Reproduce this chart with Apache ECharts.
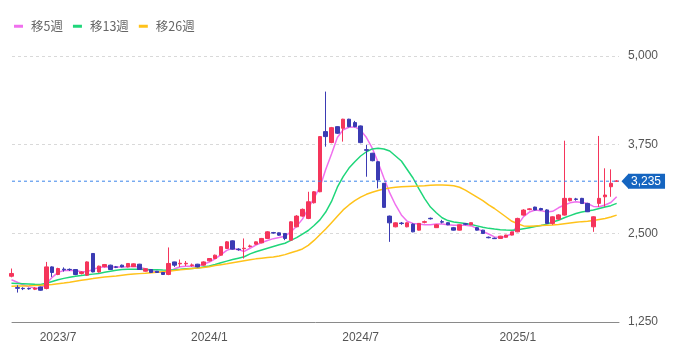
<!DOCTYPE html>
<html><head><meta charset="utf-8">
<script src="https://cdn.jsdelivr.net/npm/echarts@6/dist/echarts.min.js"></script>
<style>html,body{margin:0;padding:0;background:#fff}#c{width:688px;height:358px}</style>
</head><body><div id="c"></div>
<script>
// weekly categories (week start), first one only partly visible
const weeks = ['2023/5/8','2023/5/15','2023/5/22','2023/5/29','2023/6/5','2023/6/12','2023/6/19','2023/6/26','2023/7/3','2023/7/10','2023/7/17','2023/7/24','2023/7/31','2023/8/7','2023/8/14','2023/8/21','2023/8/28','2023/9/4','2023/9/11','2023/9/18','2023/9/25','2023/10/2','2023/10/9','2023/10/16','2023/10/23','2023/10/30','2023/11/6','2023/11/13','2023/11/20','2023/11/27','2023/12/4','2023/12/11','2023/12/18','2023/12/25',
'2024/1/1','2024/1/8','2024/1/15','2024/1/22','2024/1/29','2024/2/5','2024/2/12','2024/2/19','2024/2/26','2024/3/4','2024/3/11','2024/3/18','2024/3/25','2024/4/1','2024/4/8','2024/4/15','2024/4/22','2024/4/29','2024/5/6','2024/5/13','2024/5/20','2024/5/27','2024/6/3','2024/6/10','2024/6/17','2024/6/24','2024/7/1','2024/7/8','2024/7/15','2024/7/22','2024/7/29','2024/8/5','2024/8/12','2024/8/19','2024/8/26','2024/9/2','2024/9/9','2024/9/16','2024/9/23','2024/9/30','2024/10/7','2024/10/14','2024/10/21','2024/10/28','2024/11/4','2024/11/11','2024/11/18','2024/11/25','2024/12/2','2024/12/9','2024/12/16','2024/12/23','2024/12/30',
'2025/1/6','2025/1/13','2025/1/20','2025/1/27','2025/2/3','2025/2/10','2025/2/17','2025/2/24','2025/3/3','2025/3/10','2025/3/17','2025/3/24','2025/3/31','2025/4/7','2025/4/14','2025/4/21','2025/4/28','2025/5/5'];

const openV = [1895,1735,1725,1722,1712,1744,1722,2027,1920,1995,1992,1990,1934,1910,2216,1956,2030,2051,2027,2051,2027,2030,2065,1966,1990,1966,1948,1920,2097,2070,2070,2048,2065,2051,2112,2145,2192,2287,2394,2278,2283,2315,2347,2366,2428,2510,2507,2498,2404,2592,2743,2710,2931,3086,3934,3780,4004,3981,4109,4061,4014,3680,3629,3510,3205,2743,2592,2645,2592,2630,2545,2655,2712,2580,2665,2650,2580,2545,2635,2620,2580,2545,2445,2432,2428,2445,2475,2521,2757,2835,2870,2850,2830,2640,2700,2757,2960,2985,2993,2922,2592,2922,3015,3157,3235];
const closeV = [1934,1725,1720,1718,1728,1698,2027,1948,2004,1985,1988,1920,1955,2097,1956,2037,2060,1990,2022,2027,2075,2070,1990,2000,1948,1948,1920,2075,2051,2078,2078,2055,2027,2097,2145,2192,2312,2380,2277,2270,2290,2322,2380,2428,2521,2504,2474,2428,2662,2743,2838,2945,3086,3864,3864,3990,3911,4109,4004,4004,3779,3670,3524,3251,2866,2648,2648,2638,2648,2521,2640,2665,2705,2620,2658,2620,2545,2620,2628,2650,2545,2498,2438,2425,2460,2475,2520,2710,2828,2845,2830,2830,2640,2733,2760,2993,2993,2978,2920,2804,2733,2993,3040,3205,3237];
const lowV = [1880,1665,1700,1705,1700,1690,1710,1886,1910,1960,1970,1910,1920,1900,1950,1945,2020,1985,2010,2020,2020,2025,1985,1960,1940,1942,1915,1910,2027,2027,2040,2030,2020,2045,2105,2140,2185,2280,2270,2255,2145,2300,2340,2360,2420,2495,2465,2404,2395,2585,2735,2700,2920,3080,3722,3770,3900,3793,3995,3995,3770,3298,3515,3134,2860,2380,2585,2620,2585,2515,2540,2640,2695,2575,2640,2615,2540,2540,2615,2615,2540,2490,2430,2420,2420,2440,2470,2515,2750,2825,2825,2825,2635,2620,2690,2750,2950,2960,2915,2800,2521,2874,2874,3015,3225];
const highV = [2004,1768,1740,1735,1740,1750,2097,2035,2015,2020,2005,1995,1965,2105,2220,2045,2068,2058,2040,2060,2080,2078,2070,2008,1995,1970,1952,2301,2100,2131,2110,2075,2070,2105,2150,2200,2320,2390,2400,2290,2428,2340,2385,2435,2530,2520,2512,2505,2670,2757,2850,3086,3095,3870,4498,4000,4010,4115,4115,4085,4020,3746,3635,3515,3210,2750,2655,2660,2655,2640,2645,2680,2722,2630,2690,2655,2590,2625,2645,2655,2590,2550,2455,2440,2465,2480,2525,2720,2840,2855,2875,2860,2840,2740,2770,3806,3000,3000,3000,2930,2740,3873,3417,3402,3250];

const ma5 = [1845,1810,1775,1745,1728,1722,1790,1880,1950,1975,1980,1975,1960,1960,1990,2020,2030,2027,2027,2027,2030,2035,2020,2000,1975,1955,1948,1958,2000,2030,2035,2037,2040,2065,2095,2140,2200,2260,2290,2270,2245,2290,2335,2370,2400,2425,2440,2460,2520,2600,2700,2850,3000,3150,3400,3620,3850,3960,3995,4000,3955,3850,3700,3500,3280,3070,2900,2760,2670,2640,2630,2620,2620,2630,2630,2620,2615,2615,2615,2605,2570,2525,2490,2450,2440,2455,2500,2620,2735,2800,2830,2820,2800,2810,2860,2900,2930,2945,2935,2920,2880,2875,2900,2935,3015];
const ma13 = [1795,1793,1790,1787,1783,1780,1795,1820,1845,1865,1880,1895,1905,1915,1925,1935,1950,1965,1980,1990,1993,1993,1992,1990,1988,1985,1982,1980,1985,1992,2000,2005,2010,2025,2040,2060,2085,2108,2130,2150,2170,2210,2240,2265,2290,2315,2340,2360,2400,2440,2490,2540,2610,2690,2800,2950,3150,3300,3420,3510,3590,3650,3690,3700,3690,3660,3590,3520,3400,3280,3130,2990,2870,2790,2720,2680,2660,2650,2640,2625,2605,2585,2570,2560,2552,2548,2545,2550,2565,2580,2595,2610,2630,2660,2685,2720,2750,2780,2800,2815,2830,2850,2870,2890,2922];
const ma26 = [1755,1757,1758,1760,1763,1767,1772,1780,1790,1800,1812,1825,1838,1850,1862,1875,1885,1893,1900,1910,1918,1925,1932,1938,1945,1952,1960,1966,1975,1985,1995,2003,2012,2020,2030,2045,2058,2070,2085,2100,2115,2128,2140,2150,2160,2168,2180,2200,2225,2250,2280,2330,2400,2480,2560,2650,2740,2830,2900,2960,3010,3050,3080,3105,3125,3140,3148,3155,3160,3165,3168,3172,3178,3181,3180,3178,3170,3150,3110,3060,3010,2960,2900,2850,2790,2730,2670,2635,2605,2600,2605,2610,2615,2618,2625,2635,2645,2655,2665,2672,2680,2695,2710,2730,2757];

const yTicks = [1250, 2500, 3750, 5000];
const lastPrice = 3235;
const seriesNames = ['移5週', '移13週', '移26週'];
const maColors = ['#f070ee', '#1fd67a', '#ffc21a'];
const upColor = '#f5355b', downColor = '#3b3bb3';
const priceLineColor = '#3a84ea';

const labelIdx = weeks.map((w, i) => i).filter(i => {
  const p = weeks[i].split('/').map(Number);
  return (p[1] === 1 || p[1] === 7) && p[2] <= 7;
});
const xMin = 0.09, xMax = weeks.length - 0.6;
const fmt = v => Number(v).toLocaleString('en-US');

const chart = echarts.init(document.getElementById('c'));
const candles = weeks.map((w, i) => [i, openV[i], closeV[i], lowV[i], highV[i]]);
const maData = [ma5, ma13, ma26];

const option = {
  animation: false,
  legend: {
    left: 9, top: 15, itemWidth: 9, itemHeight: 3, itemGap: 10, icon: 'rect',
    textStyle: { fontFamily: 'Noto Sans CJK JP', fontSize: 12.5, color: '#666', padding: [0, 0, 0, 3] },
    data: seriesNames
  },
  grid: { left: 12, right: 69, top: 56, bottom: 36 },
  xAxis: {
    type: 'value', min: xMin, max: xMax,
    axisLine: { show: true, lineStyle: { color: '#8a8a8a', width: 1 } },
    axisTick: { show: false },
    splitLine: { show: false },
    axisLabel: {
      customValues: labelIdx,
      formatter: v => { const p = weeks[Math.round(v)].split('/'); return p[0] + '/' + p[1]; },
      color: '#555', fontSize: 12, fontFamily: 'Liberation Sans', margin: 10
    }
  },
  yAxis: {
    type: 'value', position: 'right', min: yTicks[0], max: yTicks[yTicks.length - 1], interval: 1250,
    axisLine: { show: false }, axisTick: { show: false },
    splitLine: { lineStyle: { color: '#d9d9d9', type: [3, 3] } },
    axisLabel: { margin: 9, color: '#555', fontSize: 12, fontFamily: 'Liberation Sans', formatter: fmt }
  },
  series: [
    {
      type: 'candlestick', data: candles, barWidth: 4, clip: true,
      encode: { x: 0, y: [1, 2, 3, 4] },
      itemStyle: { color: upColor, color0: downColor, borderColor: upColor, borderColor0: downColor, borderWidth: 1 },
      z: 3
    },
    {
      type: 'line', name: 'price', data: [[xMin, lastPrice], [xMax, lastPrice]],
      color: priceLineColor, z: 4, showSymbol: false, symbol: 'none', silent: true, clip: false,
      lineStyle: { color: priceLineColor, type: [3, 3], width: 1 },
      endLabel: {
        show: true, distance: 9, formatter: () => fmt(lastPrice),
        color: '#fff', backgroundColor: '#1565c0', padding: [2, 4, 1, 3],
        fontSize: 12, fontFamily: 'Liberation Sans', lineHeight: 12
      }
    }
  ].concat(maData.map((arr, k) => ({
    type: 'line', name: seriesNames[k], data: arr.map((v, i) => [i, v]),
    showSymbol: false, symbol: 'none', clip: true, color: maColors[k],
    lineStyle: { width: 1.5, color: maColors[k] }, z: 2
  })))
};
chart.setOption(option);

const py = chart.convertToPixel({ yAxisIndex: 0 }, lastPrice);
const px = chart.convertToPixel({ xAxisIndex: 0 }, xMax);
chart.setOption({
  graphic: [{
    type: 'polygon', silent: true, z: 100,
    shape: { points: [[px + 2.5, py], [px + 9.5, py - 7.5], [px + 9.5, py + 7.5]] },
    style: { fill: '#1565c0' }
  }]
});
</script></body></html>
